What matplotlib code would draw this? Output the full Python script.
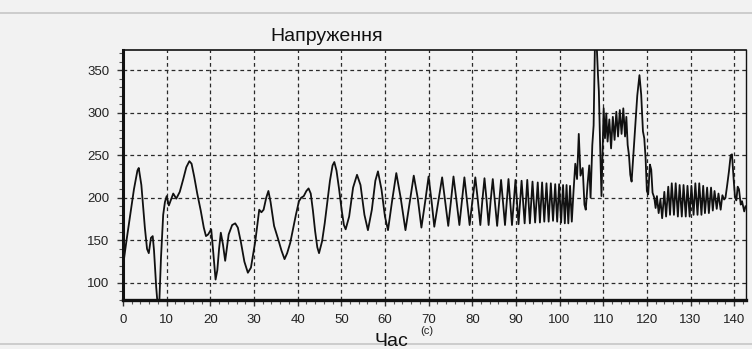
"""Voltage trace (Напруження) over time, redrawn from a scanned plot."""

from __future__ import annotations

import matplotlib

matplotlib.use("Agg")

import matplotlib.pyplot as plt
import numpy as np
from matplotlib.lines import Line2D
from matplotlib.ticker import MultipleLocator

# Time samples (s) and voltage readings taken off the scanned chart
time_s = [
	0.0, 0.8, 1.5, 2.5, 3.3, 3.6, 4.2, 5.0, 5.5, 5.9, 6.4, 6.8, 7.1, 7.6, 7.9, 8.3, 8.7, 9.2, 9.6,
	10.0, 10.5, 11.0, 11.5, 12.2, 13.0, 13.8, 14.5, 15.2, 15.7, 16.3, 17.0, 17.8, 18.5, 19.0, 19.5,
	20.2, 20.6, 21.2, 21.6, 22.0, 22.4, 22.9, 23.4, 24.2, 25.0, 25.7, 26.3, 27.0, 27.8, 28.6, 29.3,
	30.3, 31.2, 31.7, 32.2, 32.8, 33.3, 33.8, 34.6, 35.5, 36.3, 37.0, 37.6, 38.3, 39.0, 39.6,
	40.3, 40.8, 41.4, 42.0, 42.5, 43.0, 43.5, 44.0, 44.5, 44.9, 45.6, 46.2, 46.8, 47.4, 48.0, 48.4,
	48.9, 49.5, 50.1, 50.6, 51.0, 51.8, 52.7, 53.6, 54.4, 55.3, 56.1, 57.0, 57.8, 58.4, 59.2,
	60.0, 60.7, 61.6, 62.6, 63.6, 64.7, 65.6, 66.6, 67.5, 68.35, 69.2, 70.0, 70.7, 71.3, 72.2,
	73.1, 73.8, 74.5, 75.1, 75.7, 76.4, 77.05, 77.6, 78.2, 78.8, 79.4, 80.0, 80.7, 81.3, 81.85,
	82.3, 82.8, 83.3, 83.75, 84.2, 84.7, 85.2, 85.7, 86.6, 87.5, 88.3, 89.1, 89.9, 90.6, 91.3,
	92.0, 92.6, 93.2, 93.8, 94.4, 95.0, 95.5, 96.0, 96.5, 97.0, 97.5, 98.0, 98.5, 99.0, 99.45,
	99.9, 100.35, 100.8, 101.2, 101.6, 102.0, 102.4, 102.8, 103.2, 103.6, 104.0, 104.4, 104.8,
	105.3, 105.7, 106.0, 106.4, 106.8, 107.1, 107.5, 107.8, 108.1, 108.5, 108.8, 109.0, 109.3,
	109.6, 109.9, 110.1, 110.4, 110.7, 111.0, 111.4, 111.8, 112.2, 112.6, 113.0, 113.4, 113.8,
	114.2, 114.6, 115.0, 115.3, 115.6, 115.9, 116.2, 116.5, 116.9, 117.3, 117.8, 118.3, 118.7,
	119.1, 119.4, 119.7, 120.0, 120.3, 120.7, 121.0, 121.3, 121.7, 122.0, 122.3, 122.7, 123.1,
	123.5, 124.0, 124.4, 124.9, 125.3, 125.7, 126.2, 126.6, 127.1, 127.5, 128.0, 128.4, 128.9,
	129.3, 129.8, 130.2, 130.7, 131.1, 131.6, 132.0, 132.5, 132.9, 133.3, 133.8, 134.2, 134.7,
	135.1, 135.5, 136.0, 136.4, 136.9, 137.3, 137.7, 138.0, 138.4, 138.8, 139.2, 139.5, 139.9,
	140.2, 140.5, 140.8, 141.1, 141.5, 141.8, 142.3, 142.6,
]
voltage = [
	120, 150, 175, 210, 232, 235, 215, 165, 140, 135, 153, 155, 138, 95, 76, 76, 130, 180, 195,
	202, 191, 198, 205, 199, 207, 222, 236, 243, 240, 225, 205, 185, 165, 155, 157,
	163, 140, 104, 115, 140, 159, 145, 126, 157, 168, 170, 165, 148, 125, 112, 118,
	149, 186, 183, 186, 200, 208, 195, 167, 152, 138, 128, 135, 147, 165, 180,
	196, 200, 202, 208, 211, 205, 185, 161, 142, 135, 149, 170, 195, 220, 238, 242,
	232, 210, 185, 168, 163, 178, 212, 227, 215, 180, 162, 186, 220, 231, 210,
	178, 162, 195, 229, 200, 162, 192, 226, 200, 165, 195, 225, 195, 166, 195,
	224, 195, 167, 195, 225, 196, 168, 195, 224, 196, 168, 195, 224, 196, 168,
	196, 223, 196, 168, 196, 222, 195, 167, 221, 168, 222, 168, 221, 169, 220,
	170, 221, 170, 219, 171, 218, 171, 218, 172, 217, 172, 217, 173, 216, 172,
	216, 171, 215, 170, 215, 170, 214, 172, 208, 240, 222, 275, 226,
	235, 192, 186, 215, 238, 200, 262, 285, 380, 380, 344, 325, 260,
	202, 262, 305, 270, 299, 266, 292, 258, 295, 268, 301, 272, 303,
	275, 305, 272, 295, 262, 250, 227, 219, 250, 282, 320, 344, 321,
	278, 270, 247, 208, 204, 239, 233, 206, 200, 188, 202, 182, 198,
	176, 207, 178, 213, 180, 217, 180, 217, 178, 215, 178, 215, 178,
	214, 178, 214, 180, 217, 180, 217, 180, 214, 182, 212, 182, 212,
	185, 208, 187, 205, 186, 203, 198, 200, 215, 231, 250, 251, 220,
	200, 197, 213, 210, 192, 196, 184, 190,
]

x_ticks = list(range(0, 141, 10))
y_ticks = [100, 150, 200, 250, 300, 350]
title_text = "Напруження"
xlabel_text = "Час"
unit_text = "(c)"

BG = "#f2f2f2"
FONT = ["Liberation Sans", "DejaVu Sans"]


def plot_voltage(save_path: str = "out.png") -> None:
	"""Draw the voltage trace in the style of the old instrument screenshot."""

	plt.rcParams["font.family"] = FONT
	fig = plt.figure(figsize=(7.52, 3.49), dpi=100, facecolor=BG)
	ax = fig.add_axes([0.1636, 0.1404, 0.8278, 0.7163])
	ax.set_facecolor(BG)

	ax.plot(np.array(time_s), np.array(voltage), color="#111111", lw=1.3)

	ax.set_xlim(0, 142.6)
	ax.set_ylim(80, 373.5)
	ax.set_xticks(x_ticks)
	ax.set_yticks(y_ticks)
	ax.xaxis.set_minor_locator(MultipleLocator(2))
	ax.yaxis.set_minor_locator(MultipleLocator(10))
	ax.tick_params(axis="both", which="major", length=4, width=1, color="#333333",
				   labelsize=9.5, labelcolor="#222222")
	ax.tick_params(axis="x", which="major", pad=6)
	ax.tick_params(axis="y", which="major", pad=6)
	ax.tick_params(axis="both", which="minor", length=3, width=0.8, color="#555555")

	ax.grid(True, which="major", color="#2a2a2a", lw=0.9, ls=(0, (3.0, 2.5)))
	ax.set_axisbelow(True)

	for side, lw in (("left", 2.2), ("bottom", 2.4), ("top", 1.2), ("right", 1.0)):
		ax.spines[side].set_linewidth(lw)
		ax.spines[side].set_color("#111111")

	fig.text(0.435, 0.895, title_text, ha="center", va="center", fontsize=14, color="#111111")
	fig.text(0.521, 0.022, xlabel_text, ha="center", va="center", fontsize=14, color="#111111")
	fig.text(0.568, 0.052, unit_text, ha="center", va="center", fontsize=8, color="#222222")

	# faint window frame lines of the original screenshot
	for y in (0.962, 0.013):
		fig.add_artist(Line2D([0.0, 1.0], [y, y], transform=fig.transFigure, color="#c6c6c6", lw=1.2))

	fig.savefig(save_path, dpi=100, facecolor=BG)
	plt.close(fig)


if __name__ == "__main__":
	plot_voltage("out.png")
